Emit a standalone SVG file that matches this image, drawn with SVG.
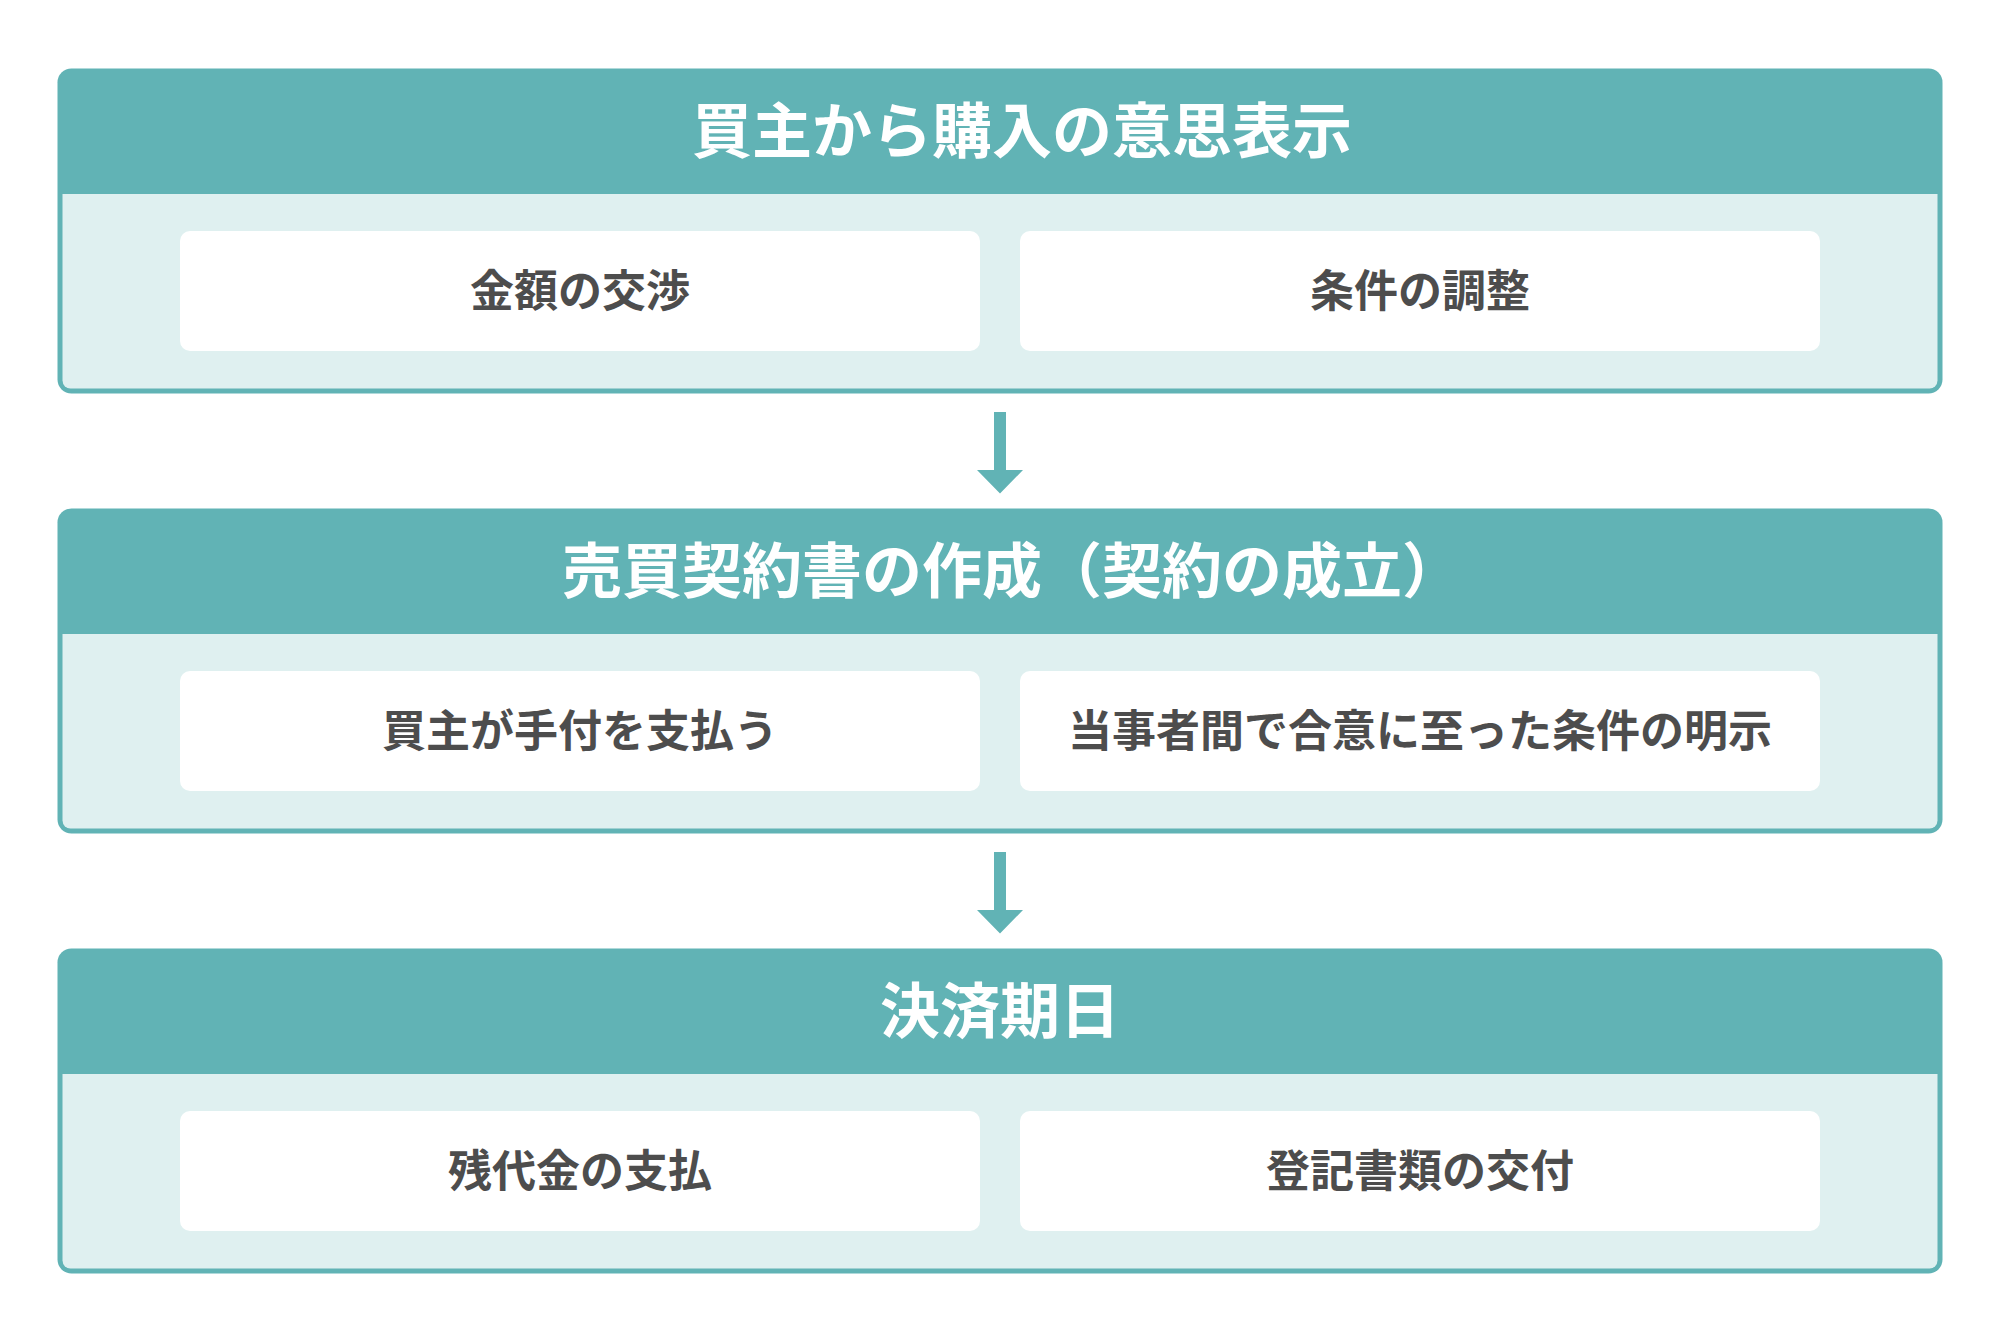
<svg xmlns="http://www.w3.org/2000/svg" width="2001" height="1343" viewBox="0 0 2001 1343">
<style>
.frame{fill:#61b3b5}
.body{fill:#dff0f0}
.item{fill:#ffffff}
.title{font-family:"Noto Sans CJK JP","Noto Sans CJK SC",sans-serif;font-weight:700;font-size:60px;fill:#ffffff;text-anchor:middle}
.label{font-family:"Noto Sans CJK JP","Noto Sans CJK SC",sans-serif;font-weight:700;font-size:44px;fill:#4d4d4d;text-anchor:middle}
.arrow{fill:#61b3b5}
</style>
<rect width="2001" height="1343" fill="#ffffff"/>
<g id="step1">
<rect class="frame" x="57.5" y="68.5" width="1885" height="325" rx="14"/>
<path class="body" d="M62.5 194 H1937.5 V380.5 a8 8 0 0 1 -8 8 H70.5 a8 8 0 0 1 -8 -8 Z"/>
<text class="title" x="1022" y="153">買主から購入の意思表示</text>
<g id="step1-a"><rect class="item" x="180" y="231" width="800" height="120" rx="10"/><text class="label" x="580" y="307">金額の交渉</text></g>
<g id="step1-b"><rect class="item" x="1020" y="231" width="800" height="120" rx="10"/><text class="label" x="1420" y="307">条件の調整</text></g>
</g>
<g id="step2">
<rect class="frame" x="57.5" y="508.5" width="1885" height="325" rx="14"/>
<path class="body" d="M62.5 634 H1937.5 V820.5 a8 8 0 0 1 -8 8 H70.5 a8 8 0 0 1 -8 -8 Z"/>
<text class="title" x="1012" y="593">売買契約書の作成（契約の成立）</text>
<g id="step2-a"><rect class="item" x="180" y="671" width="800" height="120" rx="10"/><text class="label" x="580" y="747">買主が手付を支払う</text></g>
<g id="step2-b"><rect class="item" x="1020" y="671" width="800" height="120" rx="10"/><text class="label" x="1420" y="747">当事者間で合意に至った条件の明示</text></g>
</g>
<g id="step3">
<rect class="frame" x="57.5" y="948.5" width="1885" height="325" rx="14"/>
<path class="body" d="M62.5 1074 H1937.5 V1260.5 a8 8 0 0 1 -8 8 H70.5 a8 8 0 0 1 -8 -8 Z"/>
<text class="title" x="1000" y="1033">決済期日</text>
<g id="step3-a"><rect class="item" x="180" y="1111" width="800" height="120" rx="10"/><text class="label" x="580" y="1187">残代金の支払</text></g>
<g id="step3-b"><rect class="item" x="1020" y="1111" width="800" height="120" rx="10"/><text class="label" x="1420" y="1187">登記書類の交付</text></g>
</g>
<g id="connectors">
<path class="arrow" d="M994 412 H1006 V470 H1023 L1000 493.5 L977 470 H994 Z"/>
<path class="arrow" d="M994 852 H1006 V910 H1023 L1000 933.5 L977 910 H994 Z"/>
</g>
</svg>
